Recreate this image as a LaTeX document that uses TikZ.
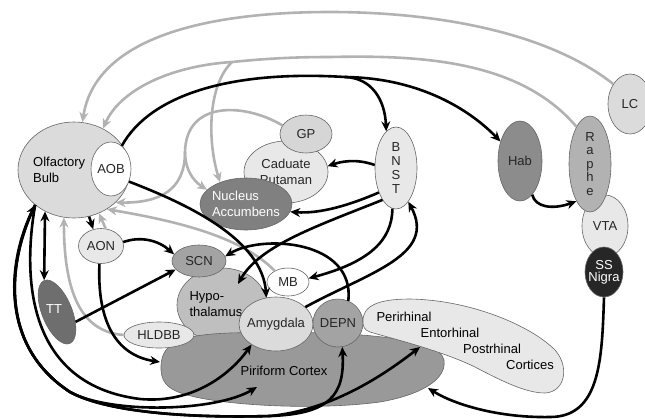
\documentclass[tikz,border=0pt]{standalone}
\usepackage{fontspec}
\setmainfont{Liberation Sans}
\usetikzlibrary{shapes.geometric,arrows.meta}

\definecolor{edgegray}{gray}{0.4}
\definecolor{pathgray}{gray}{0.7}
\definecolor{obfill}{gray}{0.86}
\definecolor{lightfill}{gray}{0.91}
\definecolor{ttfill}{gray}{0.43}
\definecolor{scnfill}{gray}{0.64}
\definecolor{hypfill}{gray}{0.75}
\definecolor{pirfill}{gray}{0.6}
\definecolor{naccfill}{gray}{0.5}
\definecolor{gpfill}{gray}{0.84}
\definecolor{habfill}{gray}{0.55}
\definecolor{raphefill}{gray}{0.7}
\definecolor{ssnfill}{gray}{0.15}

\begin{document}
\begin{tikzpicture}[x=1pt,y=-1pt,font=\fontsize{13}{15.5}\selectfont,
  region/.style={ellipse,draw=edgegray,line width=0.6pt,inner sep=-8pt,text=black!85},
  blob/.style={draw=edgegray,line width=0.6pt},
  fwd/.style={line width=2.6pt,-{Stealth[length=10pt,width=9pt]}},
  both/.style={line width=2.6pt,{Stealth[length=10pt,width=9pt]}-{Stealth[length=10pt,width=9pt]}},
  back/.style={line width=2.6pt,draw=pathgray,-{Stealth[length=10pt,width=9pt]}}]

\useasboundingbox (0,0) rectangle (645,418);

% regions
\node[region,fill=hypfill,minimum width=90pt,minimum height=74pt] (hyp) at (222,305) {};
\filldraw[blob,fill=pirfill] (161,370) .. controls (160,345) and (175,335) .. (230,333)
  .. controls (330,330) and (440,335) .. (444,360) .. controls (447,380) and (420,395) .. (380,402)
  .. controls (320,410) and (240,406) .. (200,398) .. controls (170,392) and (162,385) .. cycle;
\node (pirtxt) at (284,371) {Piriform Cortex};
\node[region,fill=lightfill,minimum width=70pt,minimum height=26pt] (hldbb) at (159,335) {HLDBB};
\node[region,fill=scnfill,minimum width=54pt,minimum height=32pt] (scn) at (199,261) {SCN};
\node[align=left,anchor=west] (hyptxt) at (186,304) {Hypo-\\thalamus};
\node[region,fill=obfill,minimum width=74pt,minimum height=54pt] (amy) at (276,324) {Amygdala};
\node[region,fill=scnfill,minimum width=50pt,minimum height=48pt] (depn) at (338,323) {DEPN};
\node[region,fill=white,minimum width=42pt,minimum height=28pt] (mb) at (288,282) {MB};

\filldraw[blob,fill=lightfill] (363,322) .. controls (362,305) and (380,299) .. (410,299)
  .. controls (470,300) and (530,325) .. (555,350) .. controls (570,367) and (565,392) .. (545,393)
  .. controls (525,393) and (500,380) .. (475,367) .. controls (440,350) and (390,338) .. (370,332)
  .. controls (364,330) and (363,326) .. cycle;
\node (peri1) at (404,317) {Perirhinal};
\node (peri2) at (450,333) {Entorhinal};
\node (peri3) at (492,349) {Postrhinal};
\node (peri4) at (530,365) {Cortices};

\node[region,fill=obfill,minimum width=112pt,minimum height=96pt] (ob) at (74,170) {};
\node[text width=56pt,align=left,anchor=west,inner sep=0pt] (obtxt) at (33,170) {Olfactory\\Bulb};
\node[region,fill=white,minimum width=40pt,minimum height=54pt] (aob) at (111,169) {AOB};
\node[region,fill=lightfill,minimum width=45pt,minimum height=35pt] (aon) at (101,246) {AON};
\node[region,fill=ttfill,minimum width=30pt,minimum height=68pt,rotate=22] (tt) at (57,312) {};
\node[text=white] (tttxt) at (54,309) {TT};

\node[region,fill=lightfill,minimum width=84pt,minimum height=62pt,align=center] (cp) at (286,172) {Caduate\\Putaman};
\node[region,fill=gpfill,minimum width=52pt,minimum height=38pt] (gp) at (306,134) {GP};
\node[region,fill=naccfill,text=white,minimum width=92pt,minimum height=52pt,align=left] (nacc) at (246,204) {Nucleus\\Accumbens};
\node[region,fill=lightfill,minimum width=42pt,minimum height=82pt,align=center,font=\fontsize{13}{14}\selectfont] (bnst) at (396,168) {B\\N\\S\\T};

\node[region,fill=habfill,minimum width=44pt,minimum height=80pt] (hab) at (520,161) {Hab};
\node[region,fill=lightfill,minimum width=46pt,minimum height=62pt] (vta) at (605,226) {VTA};
\node[region,fill=raphefill,minimum width=42pt,minimum height=96pt,align=center,font=\fontsize{13}{13.5}\selectfont] (raphe) at (590,164) {R\\a\\p\\h\\e};
\node[region,fill=ssnfill,text=white,minimum width=38pt,minimum height=50pt,align=center,font=\fontsize{13}{12}\selectfont] (ssn) at (604,272) {SS\\Nigra};
\node[region,fill=obfill,minimum width=44pt,minimum height=60pt] (lc) at (630,104) {LC};

\coordinate (rsplit) at (232,62);
\coordinate (gsplit) at (185,152);
\coordinate (asplit) at (345,77);
\coordinate (bsplit) at (70,392);
\coordinate (hyptip) at (238,284);
\coordinate (pirtip) at (257,387);
\coordinate (pirleft) at (160,362);
\coordinate (pirright) at (428,388);
\coordinate (enttip) at (420,347);

% grey projections
\draw[back] (lc.130) .. controls (545,30) and (430,12) .. (330,12) .. controls (200,12) and (95,40) .. (ob.80);
\draw[back] (raphe.110) .. controls (520,60) and (420,55) .. (330,57) .. controls (290,57) and (262,59) .. (rsplit)
  .. controls (170,66) and (120,90) .. (ob.55);
\draw[back] (rsplit) .. controls (208,85) and (207,140) .. (nacc.140);
\draw[back,-] (gp.160) .. controls (245,103) and (186,100) .. (gsplit);
\draw[back] (gsplit) .. controls (185,168) and (192,180) .. (nacc.160);
\draw[back] (gsplit) .. controls (185,190) and (160,203) .. (ob.322);
\draw[back] (mb.140) .. controls (240,235) and (170,220) .. (ob.310);
\draw[back] (hldbb.180) .. controls (85,332) and (64,300) .. (ob.258);
\draw[back] (aon.75) -- (ob.300);

% black projections
\draw[fwd,-] (aob.65) .. controls (150,95) and (230,70) .. (asplit);
\draw[fwd] (asplit) .. controls (372,78) and (385,100) .. (bnst.105);
\draw[fwd] (asplit) .. controls (420,78) and (470,110) .. (hab.135);
\draw[fwd] (aob.-35) .. controls (190,205) and (262,240) .. (amy.110);
\draw[fwd] (ob.288) -- (aon.115);
\draw[both] (ob.235) -- (tt.north);
\draw[fwd] (aon.10) .. controls (140,236) and (158,240) .. (scn.165);
\draw[fwd] (tt.-50) -- (scn.200);
\draw[fwd] (aon.265) .. controls (97,320) and (115,355) .. (pirleft);

\draw[fwd] (bnst.172) .. controls (355,158) and (340,162) .. (cp.8);
\draw[fwd] (bnst.235) .. controls (350,205) and (320,214) .. (nacc.-10);
\draw[fwd] (bnst.247) .. controls (320,225) and (260,245) .. (hyptip);
\draw[fwd] (bnst.265) .. controls (392,240) and (370,262) .. (mb.10);
\draw[fwd] (amy.30) .. controls (370,272) and (437,255) .. (bnst.290);
\draw[fwd] (depn.65) .. controls (355,240) and (262,234) .. (scn.10);

% bulb loops along the bottom
\draw[fwd] (ob.222) .. controls (22,280) and (28,385) .. (140,399) .. controls (195,404) and (232,372) .. (amy.220);
\draw[both] (ob.222) .. controls (8,260) and (-2,345) .. (bsplit) .. controls (110,414) and (215,412) .. (pirtip);
\draw[fwd] (ob.222) .. controls (8,260) and (-2,345) .. (bsplit) .. controls (110,414) and (200,418) .. (270,416)
  .. controls (330,414) and (345,395) .. (depn.280);
\draw[fwd] (ob.222) .. controls (8,260) and (-2,345) .. (bsplit) .. controls (110,414) and (200,418) .. (270,416)
  .. controls (330,410) and (380,378) .. (enttip);

\draw[fwd] (hab.-70) .. controls (535,207) and (552,210) .. (raphe.250);
\draw[fwd] (ssn.270) .. controls (602,360) and (600,417) .. (550,417) .. controls (500,418) and (455,405) .. (pirright);

\end{tikzpicture}
\end{document}
